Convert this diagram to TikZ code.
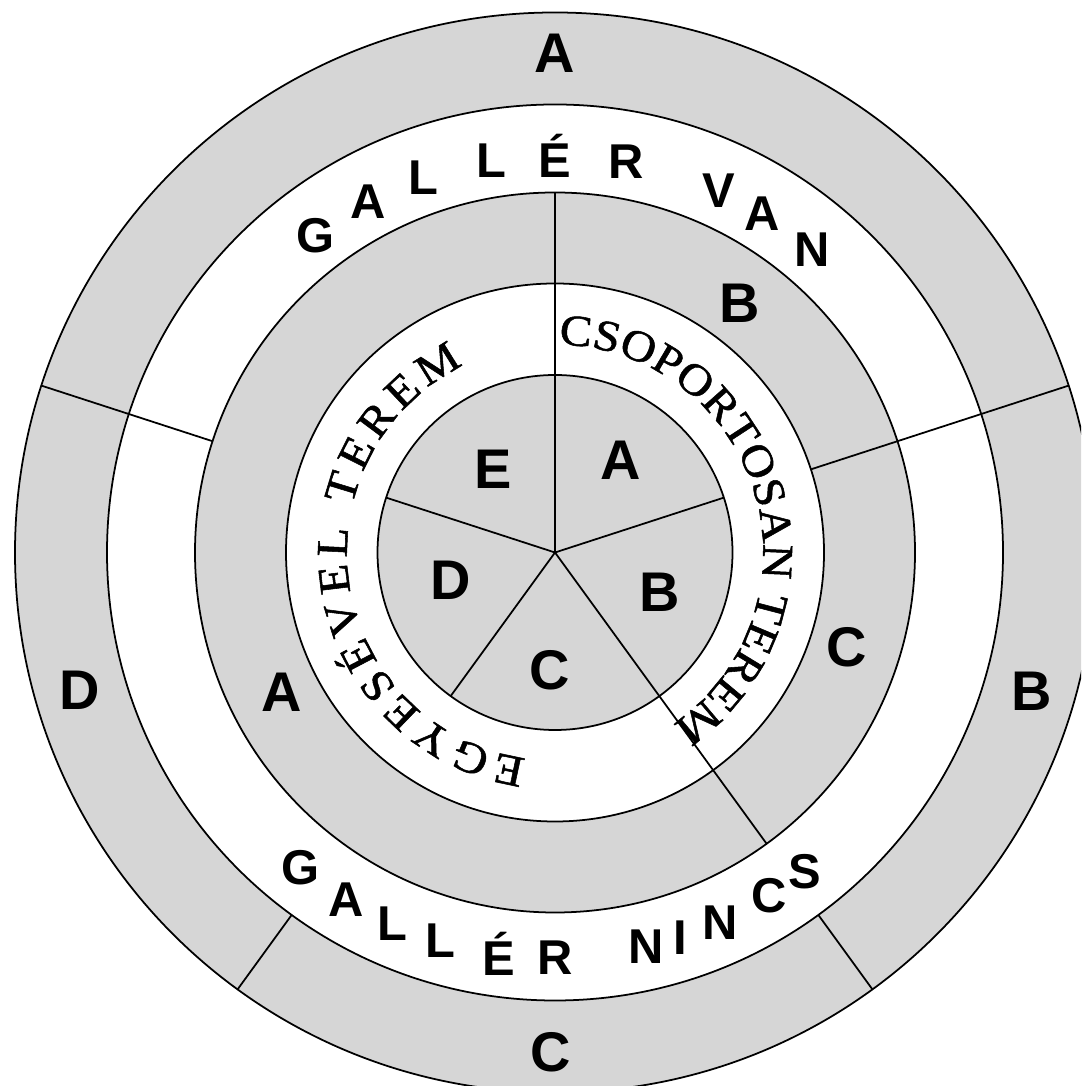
\documentclass[tikz,border=0pt]{standalone}
\usepackage{fontspec}
\setsansfont{Liberation Sans}
\newfontfamily\wideserif[FakeStretch=1.1, FakeBold=1.2]{Liberation Serif}
\usetikzlibrary{decorations.text}
\definecolor{ringgray}{RGB}{214,214,214}

\begin{document}
\begin{tikzpicture}[x=0.01cm, y=0.01cm, line width=0.5pt,
    band/.style={draw=black, fill=#1},
    bigletter/.style={font=\sffamily\bfseries\fontsize{15.9}{16}\selectfont, inner sep=0pt},
    collarletter/.style={font=\sffamily\bfseries\fontsize{13.9}{14}\selectfont, inner sep=0pt},
    roomtext/.style={decorate, decoration={text along path, text align=fit to path,
      text={|\wideserif\fontsize{12.5}{12.5}\selectfont|#1}}}]
  % frame: the outer ring runs off the right and bottom edges
  \useasboundingbox (-555,-533.5) rectangle (526,552.5);
  \clip (-555,-533.5) rectangle (526,552.5);
  \fill[white] (-555,-533.5) rectangle (526,552.5);

  % rings, outside in
  \foreach \r/\c in {540/ringgray, 448/white, 360/ringgray, 269/white, 177.5/ringgray}
    \filldraw[band=\c] (0,0) circle (\r);

  % spokes
  \foreach \a in {18,162,-126} \draw (0,0) -- (\a:177.5);
  \foreach \a in {90,-54} \draw (0,0) -- (\a:360);
  \draw (18:269) -- (18:540);
  \draw (162:360) -- (162:540);
  \foreach \a in {-54,-126} \draw (\a:448) -- (\a:540);

  % inner disc
  \node[bigletter] (inA) at (54.3:113) {A};
  \node[bigletter] (inB) at (-21:112) {B};
  \node[bigletter] (inC) at (-92.4:118) {C};
  \node[bigletter] (inD) at (195:108) {D};
  \node[bigletter] (inE) at (126.8:104) {E};

  % middle grey ring
  \node[bigletter] (midB) at (53.5:310) {B};
  \node[bigletter] (midC) at (-18:307) {C};
  \node[bigletter] (midA) at (207:307) {A};

  % outer grey ring
  \node[bigletter] (outA) at (90:499) {A};
  \node[bigletter] (outB) at (-16.2:496) {B};
  \node[bigletter] (outC) at (-90.5:500) {C};
  \node[bigletter] (outD) at (196.2:495) {D};

  % collar ring, upright letters set on an arc
  \foreach \ch/\a [count=\i] in {G/127.1, A/118, L/109.4, L/99.2, É/90.1, R/79.7, V/65.6, A/58.5, N/49.6}
    \node[collarletter] (van\i) at (\a:397) {\ch};
  \foreach \ch/\a [count=\i] in {G/231, A/239, L/246.4, L/253.6, É/262, R/270, N/283, I/288, N/294, C/302, S/308}
    \node[collarletter] (nincs\i) at (\a:405) {\ch};

  % room names in the white inner ring
  \path[roomtext=CSOPORTOSAN TEREM] (89:208) arc[start angle=89, end angle=-53, radius=208];
  \path[roomtext=EGYESÉVEL TEREM] (262:208) arc[start angle=262, end angle=116, radius=208];
\end{tikzpicture}
\end{document}
